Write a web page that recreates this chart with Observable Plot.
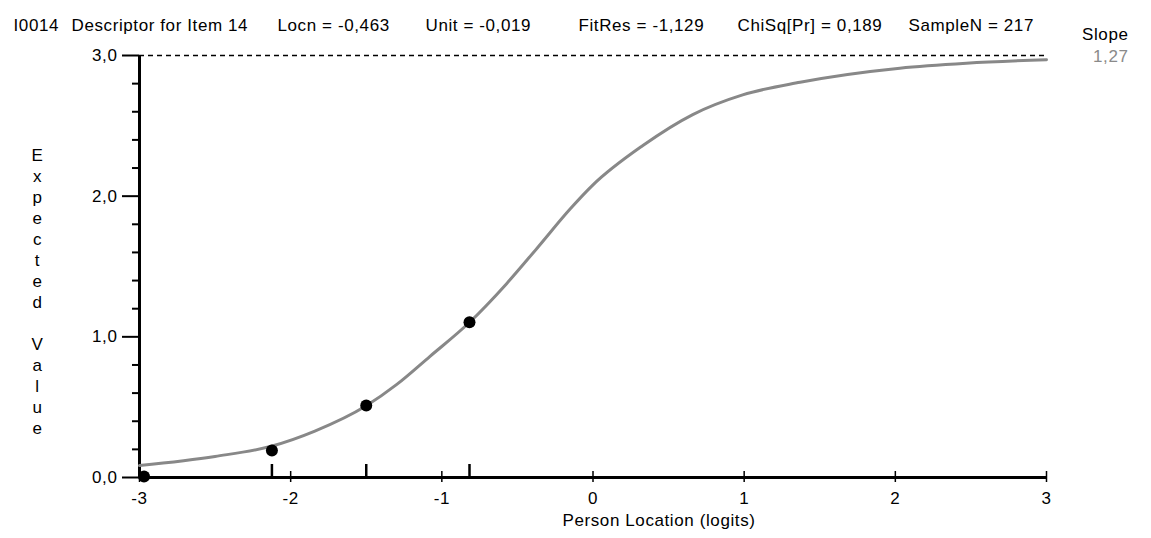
<!DOCTYPE html>
<html>
<head>
<meta charset="utf-8">
<script src="https://cdn.jsdelivr.net/npm/d3@7"></script>
<script src="https://cdn.jsdelivr.net/npm/@observablehq/plot@0.6"></script>
<style>
  html, body { margin: 0; padding: 0; background: #ffffff; }
</style>
</head>
<body>
<div id="chart"></div>
<script>
// ---- data ----
const curveX = [-3.0, -2.5, -2.135, -1.84, -1.5, -1.3, -1.08, -0.82, -0.57, -0.37, -0.15, 0.0, 0.33, 0.66, 0.99, 1.37, 2.03, 2.47, 3.0];
const curveY = [0.085, 0.15, 0.22, 0.33, 0.51, 0.66, 0.86, 1.10, 1.38, 1.63, 1.91, 2.08, 2.36, 2.58, 2.72, 2.81, 2.91, 2.945, 2.97];
const pointX = [-2.97, -2.124, -1.50, -0.817];
const pointY = [0.007, 0.192, 0.512, 1.104];
const xDomain = [-3, 3];
const yDomain = [0, 3];
const xTicks = [-3, -2, -1, 0, 1, 2, 3];
const yTicks = [0, 1, 2, 3];
const yMinorTicks = [0.2, 0.4, 0.6, 0.8, 1.2, 1.4, 1.6, 1.8, 2.2, 2.4, 2.6, 2.8];
const headerLabels = ["I0014", "Descriptor for Item 14", "Locn = -0,463", "Unit = -0,019", "FitRes = -1,129", "ChiSq[Pr] = 0,189", "SampleN = 217"];
const slopeTitle = "Slope";
const slopeValue = "1,27";
const xLabel = "Person Location (logits)";
const yLabel = "Expected Value";

// ---- layout (not data) ----
const headerDx = [-126, -68, 138, 286, 439, 598, 769];
const curve = curveX.map((x, i) => ({x, y: curveY[i]}));
const points = pointX.map((x, i) => ({x, y: pointY[i]}));
const fmt = d => d.toFixed(1).replace(".", ",");

const marks = [
  // dashed upper asymptote
  Plot.ruleY([yDomain[1]], {x1: xDomain[0], x2: xDomain[1], stroke: "#000", strokeWidth: 1.5, strokeDasharray: "5,4"}),
  // y minor ticks
  Plot.axisY({ticks: yMinorTicks, tickSize: 7, fill: "none", stroke: "#000", strokeWidth: 2}),
  // y major ticks & labels
  Plot.axisY({ticks: yTicks, tickSize: 17, tickPadding: 5, tickFormat: fmt, stroke: "#000", strokeWidth: 2, fill: "#000", label: null}),
  // x integer ticks crossing the axis
  Plot.axisX({ticks: xTicks, tickSize: 11, dy: -6, fill: "none", stroke: "#000", strokeWidth: 1.5, label: null}),
  // x tick labels
  Plot.axisX({ticks: xTicks, tickSize: 0, tickPadding: 14, tickFormat: d => String(d), fill: "#000", label: null}),
  // class interval ticks (upward)
  Plot.axisX({ticks: pointX.slice(1), tickSize: 13, dy: -13, fill: "none", stroke: "#000", strokeWidth: 2.5, label: null}),
  // axis lines
  Plot.ruleX([xDomain[0]], {y1: yDomain[0], y2: yDomain[1], stroke: "#000", strokeWidth: 3}),
  Plot.ruleY([yDomain[0]], {x1: xDomain[0], x2: xDomain[1], stroke: "#000", strokeWidth: 3}),
  // expected value curve
  Plot.line(curve, {x: "x", y: "y", stroke: "#888888", strokeWidth: 3, curve: "monotone-x"}),
  // observed class means
  Plot.dot(points, {x: "x", y: "y", r: 6, fill: "#000", stroke: "none"}),
  // header
  ...headerLabels.map((t, i) => Plot.text([t], {frameAnchor: "top-left", textAnchor: "start", dx: headerDx[i], dy: -37, fill: "#000"})),
  Plot.text([slopeTitle], {frameAnchor: "top-right", textAnchor: "end", dx: 82, dy: -28, fill: "#000"}),
  Plot.text([slopeValue], {frameAnchor: "top-right", textAnchor: "end", dx: 82, dy: -6, fill: "#8a8a8a"}),
  // axis titles
  Plot.text([xLabel], {frameAnchor: "bottom", textAnchor: "middle", dx: 66, dy: 48, fill: "#000"}),
  Plot.text([yLabel.split("").join("\n").replace(" ", "")], {frameAnchor: "left", textAnchor: "middle", dx: -102, dy: 24, lineHeight: 1.235, fill: "#000"})
];

const chart = Plot.plot({
  width: 1151,
  height: 538,
  marginLeft: 139,
  marginRight: 105,
  marginTop: 55,
  marginBottom: 61,
  x: {domain: xDomain, axis: null},
  y: {domain: yDomain, axis: null},
  style: {fontFamily: "'Liberation Sans', Arial, sans-serif", fontSize: "17px", letterSpacing: "0.6px", background: "#ffffff", color: "#000"},
  marks
});
document.getElementById("chart").appendChild(chart);
</script>
</body>
</html>
